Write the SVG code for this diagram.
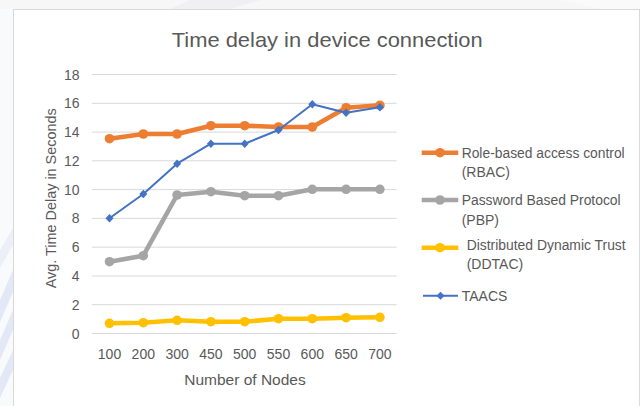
<svg xmlns="http://www.w3.org/2000/svg" width="640" height="406" viewBox="0 0 640 406">
  <style>
    .txt { font-family: "Liberation Sans", Arial, sans-serif; fill: #595959; }
    .grid line { stroke: #d9d9d9; stroke-width: 1; }
    .ylab { font-size: 14px; text-anchor: end; }
    .xlab { font-size: 14px; text-anchor: middle; }
    .leg { font-size: 14px; }
    .series { fill: none; stroke-linejoin: round; }
  </style>
  <defs>
    <marker id="dot-orange" markerUnits="userSpaceOnUse" markerWidth="12" markerHeight="12" refX="6" refY="6" overflow="visible">
      <circle cx="6" cy="6" r="4.8" fill="#ED7D31"/>
    </marker>
    <marker id="dot-gray" markerUnits="userSpaceOnUse" markerWidth="12" markerHeight="12" refX="6" refY="6" overflow="visible">
      <circle cx="6" cy="6" r="4.8" fill="#A5A5A5"/>
    </marker>
    <marker id="dot-yellow" markerUnits="userSpaceOnUse" markerWidth="12" markerHeight="12" refX="6" refY="6" overflow="visible">
      <circle cx="6" cy="6" r="4.8" fill="#FFC000"/>
    </marker>
    <marker id="diamond-blue" markerUnits="userSpaceOnUse" markerWidth="10" markerHeight="10" refX="5" refY="5" overflow="visible">
      <path d="M5 0.8 L9 5 L5 9.2 L1 5 Z" fill="#4472C4"/>
    </marker>
  </defs>

  <!-- page background with faint watermark around the chart frame -->
  <rect x="0" y="0" width="640" height="406" fill="#ffffff"/>
  <g id="watermark" opacity="0.5">
    <rect x="0" y="0" width="640" height="9" fill="#f0f0f2"/>
    <path d="M190 0 L260 0 L230 9 L170 9 Z" fill="#e2e2e6"/>
    <path d="M560 0 L640 0 L640 9 L600 9 Z" fill="#f7f7f7"/>
    <rect x="0" y="9" width="13" height="397" fill="#f5f6fa"/>
    <path d="M0 300 L13 270 L13 292 L0 322 Z" fill="#c9d3ee"/>
    <path d="M0 340 L13 310 L13 330 L0 360 Z" fill="#c9d3ee"/>
    <path d="M0 378 L13 350 L13 370 L0 398 Z" fill="#c9d3ee"/>
    <path d="M0 250 L13 228 L13 245 L0 268 Z" fill="#dbe1f2"/>
  </g>

  <!-- chart frame -->
  <rect id="chart-area" x="13.5" y="9.5" width="626" height="400" fill="#ffffff" stroke="#d9d9d9" stroke-width="1"/>

  <!-- title -->
  <text id="title" class="txt" x="171.7" y="46.7" font-size="21" textLength="311" lengthAdjust="spacingAndGlyphs">Time delay in device connection</text>

  <!-- horizontal gridlines -->
  <g class="grid" id="gridlines">
    <line x1="91.7" y1="74.5" x2="396.7" y2="74.5"/>
    <line x1="91.7" y1="103.3" x2="396.7" y2="103.3"/>
    <line x1="91.7" y1="132.1" x2="396.7" y2="132.1"/>
    <line x1="91.7" y1="160.8" x2="396.7" y2="160.8"/>
    <line x1="91.7" y1="189.6" x2="396.7" y2="189.6"/>
    <line x1="91.7" y1="218.4" x2="396.7" y2="218.4"/>
    <line x1="91.7" y1="247.2" x2="396.7" y2="247.2"/>
    <line x1="91.7" y1="276.0" x2="396.7" y2="276.0"/>
    <line x1="91.7" y1="304.7" x2="396.7" y2="304.7"/>
    <line x1="91.7" y1="333.5" x2="396.7" y2="333.5"/>
  </g>

  <!-- y axis tick labels -->
  <g id="y-axis" class="txt ylab">
    <text x="79.5" y="79.5">18</text>
    <text x="79.5" y="108.3">16</text>
    <text x="79.5" y="137.1">14</text>
    <text x="79.5" y="165.8">12</text>
    <text x="79.5" y="194.6">10</text>
    <text x="79.5" y="223.4">8</text>
    <text x="79.5" y="252.2">6</text>
    <text x="79.5" y="281.0">4</text>
    <text x="79.5" y="309.7">2</text>
    <text x="79.5" y="338.5">0</text>
  </g>
  <text id="y-title" class="txt" font-size="15" text-anchor="middle" textLength="180" lengthAdjust="spacingAndGlyphs" transform="translate(55.5 198.3) rotate(-90)" x="0" y="0">Avg. Time Delay in Seconds</text>

  <!-- x axis tick labels -->
  <g id="x-axis" class="txt xlab">
    <text x="109.5" y="359.3">100</text>
    <text x="143.3" y="359.3">200</text>
    <text x="177.1" y="359.3">300</text>
    <text x="210.9" y="359.3">450</text>
    <text x="244.7" y="359.3">500</text>
    <text x="278.5" y="359.3">550</text>
    <text x="312.3" y="359.3">600</text>
    <text x="346.1" y="359.3">650</text>
    <text x="379.9" y="359.3">700</text>
  </g>
  <text id="x-title" class="txt" x="245" y="384.5" font-size="15.5" text-anchor="middle">Number of Nodes</text>

  <!-- data series -->
  <g id="series">
    <polyline id="rbac" class="series" stroke="#ED7D31" stroke-width="4.6"
      marker-start="url(#dot-orange)" marker-mid="url(#dot-orange)" marker-end="url(#dot-orange)"
      points="109.5,138.7 143.3,134.0 177.1,134.0 210.9,125.7 244.7,125.7 278.5,127.0 312.3,127.0 346.1,107.7 379.9,105.3"/>
    <polyline id="pbp" class="series" stroke="#A5A5A5" stroke-width="4.6"
      marker-start="url(#dot-gray)" marker-mid="url(#dot-gray)" marker-end="url(#dot-gray)"
      points="109.5,261.7 143.3,255.7 177.1,195.0 210.9,191.7 244.7,195.7 278.5,195.7 312.3,189.3 346.1,189.3 379.9,189.3"/>
    <polyline id="ddtac" class="series" stroke="#FFC000" stroke-width="4.6"
      marker-start="url(#dot-yellow)" marker-mid="url(#dot-yellow)" marker-end="url(#dot-yellow)"
      points="109.5,323.3 143.3,322.7 177.1,320.3 210.9,321.7 244.7,321.7 278.5,318.7 312.3,318.7 346.1,317.7 379.9,317.3"/>
    <polyline id="taacs" class="series" stroke="#4472C4" stroke-width="2"
      marker-start="url(#diamond-blue)" marker-mid="url(#diamond-blue)" marker-end="url(#diamond-blue)"
      points="109.5,218.3 143.3,194.0 177.1,163.7 210.9,143.7 244.7,143.7 278.5,130.0 312.3,104.3 346.1,112.7 379.9,107.3"/>
  </g>

  <!-- legend -->
  <g id="legend">
    <g id="legend-rbac">
      <line x1="421.7" y1="152.7" x2="458.3" y2="152.7" stroke="#ED7D31" stroke-width="4.6"/>
      <circle cx="440" cy="152.7" r="4.8" fill="#ED7D31"/>
      <text class="txt leg" x="461.7" y="157.5" textLength="163" lengthAdjust="spacingAndGlyphs">Role-based access control</text>
      <text class="txt leg" x="461.7" y="176.5">(RBAC)</text>
    </g>
    <g id="legend-pbp">
      <line x1="421.7" y1="200" x2="458.3" y2="200" stroke="#A5A5A5" stroke-width="4.6"/>
      <circle cx="440" cy="200" r="4.8" fill="#A5A5A5"/>
      <text class="txt leg" x="461.7" y="205" textLength="159" lengthAdjust="spacingAndGlyphs">Password Based Protocol</text>
      <text class="txt leg" x="461.7" y="224.5">(PBP)</text>
    </g>
    <g id="legend-ddtac">
      <line x1="421.7" y1="247.7" x2="458.3" y2="247.7" stroke="#FFC000" stroke-width="4.6"/>
      <circle cx="440" cy="247.7" r="4.8" fill="#FFC000"/>
      <text class="txt leg" x="466.7" y="250" textLength="159" lengthAdjust="spacingAndGlyphs">Distributed Dynamic Trust</text>
      <text class="txt leg" x="466.7" y="269">(DDTAC)</text>
    </g>
    <g id="legend-taacs">
      <line x1="423" y1="295.7" x2="458" y2="295.7" stroke="#4472C4" stroke-width="2"/>
      <path d="M440.5 291.7 L444.5 295.7 L440.5 299.7 L436.5 295.7 Z" fill="#4472C4"/>
      <text class="txt leg" x="461.7" y="300.5">TAACS</text>
    </g>
  </g>
</svg>
